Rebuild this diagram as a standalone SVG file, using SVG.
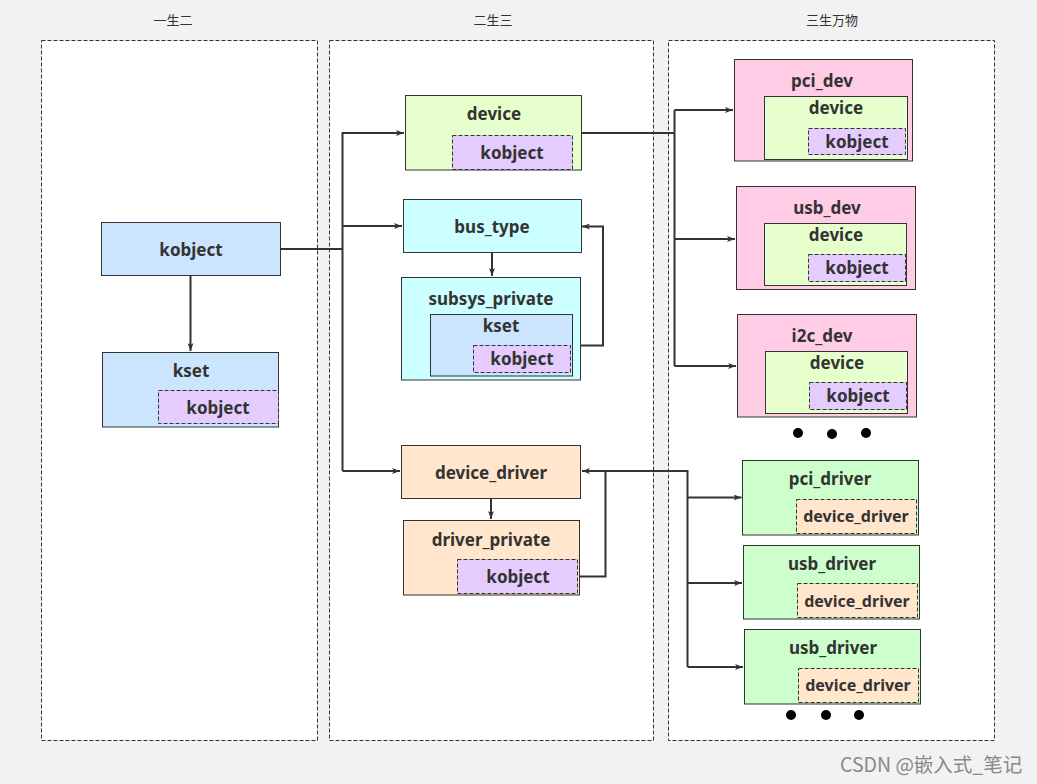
<svg xmlns="http://www.w3.org/2000/svg" width="1037" height="784" viewBox="0 0 1037 784">
<defs>
<marker id="ah" markerWidth="8" markerHeight="6" refX="8" refY="3" orient="auto" markerUnits="userSpaceOnUse">
<path d="M0,0 L8,3 L0,6 L2,3 Z" fill="#333"/>
</marker>
</defs>
<style>
.panel{fill:#fff;stroke:#333;stroke-width:1;stroke-dasharray:4 2}
.title{font-family:"Noto Sans CJK SC","Noto Sans",sans-serif;font-size:13px;fill:#333;text-anchor:middle}
.box{stroke:#333;stroke-width:1}
.dash{stroke:#333;stroke-width:1;stroke-dasharray:4 2}
.blue{fill:#cce5ff}.purple{fill:#e5ccff}.lgreen{fill:#e6ffcc}.cyan{fill:#ccffff}.orange{fill:#ffe6cc}.pink{fill:#ffcce6}.green{fill:#ccffcc}
.t{font-family:"Noto Sans","Liberation Sans",sans-serif;font-weight:bold;font-size:17px;fill:#333;text-anchor:middle;dominant-baseline:central}
.s{font-size:16px}
.c{fill:none;stroke:#333;stroke-width:2}
.dot{fill:#000}
.wm{font-family:"Noto Sans CJK SC","Noto Sans",sans-serif;font-size:19.5px;fill:#888}
</style>
<rect x="0" y="0" width="1037" height="784" fill="#f2f2f2"/>

<g id="panels">
<rect class="panel" x="41.5" y="40.5" width="276" height="700"/>
<rect class="panel" x="329.5" y="40.5" width="324" height="700"/>
<rect class="panel" x="668.5" y="40.5" width="326" height="700"/>
<text class="title" x="173" y="25">一生二</text>
<text class="title" x="493" y="25">二生三</text>
<text class="title" x="832" y="25">三生万物</text>
</g>

<g id="connectors">
<path class="c" d="M280,249 H342.5"/>
<path class="c" d="M342.5,471 V133 H404" marker-end="url(#ah)"/>
<path class="c" d="M342.5,226 H402" marker-end="url(#ah)"/>
<path class="c" d="M342.5,471 H400" marker-end="url(#ah)"/>
<path class="c" d="M190.5,275 V351" marker-end="url(#ah)"/>
<path class="c" d="M492,252 V276" marker-end="url(#ah)"/>
<path class="c" d="M572,345.5 H603 V226.5 H582" marker-end="url(#ah)"/>
<path class="c" d="M491,498 V519" marker-end="url(#ah)"/>
<path class="c" d="M578,576.5 H605.5 V471 H582" marker-end="url(#ah)"/>
<path class="c" d="M581,133 H674.5"/>
<path class="c" d="M674.5,110 V366"/>
<path class="c" d="M674.5,110 H733" marker-end="url(#ah)"/>
<path class="c" d="M674.5,239 H735" marker-end="url(#ah)"/>
<path class="c" d="M674.5,366 H736" marker-end="url(#ah)"/>
<path class="c" d="M582,471 H687.5 V667"/>
<path class="c" d="M687.5,497.5 H741.5" marker-end="url(#ah)"/>
<path class="c" d="M687.5,583 H742" marker-end="url(#ah)"/>
<path class="c" d="M687.5,667 H743" marker-end="url(#ah)"/>
</g>

<g id="kobject">
<rect class="box blue" x="101.5" y="222.5" width="179" height="53"/>
<text class="t" x="191" y="249">kobject</text>
</g>

<g id="kset">
<rect class="box blue" x="102.5" y="352.5" width="176" height="74.5"/>
<text class="t" x="191" y="370">kset</text>
<rect class="dash purple" x="158.5" y="390.5" width="120" height="33"/>
<text class="t" x="218" y="407">kobject</text>
</g>

<g id="device">
<rect class="box lgreen" x="405.5" y="95.5" width="176" height="74.5"/>
<text class="t" x="494" y="113">device</text>
<rect class="dash purple" x="452.5" y="135.5" width="120" height="34"/>
<text class="t" x="512" y="152">kobject</text>
</g>

<g id="bus_type">
<rect class="box cyan" x="403.5" y="199.5" width="178" height="53"/>
<text class="t" x="492" y="226">bus_type</text>
</g>

<g id="subsys_private">
<rect class="box cyan" x="401.5" y="277.5" width="179" height="102.5"/>
<text class="t" x="491" y="298">subsys_private</text>
<rect class="box blue" x="430.5" y="314.5" width="142" height="61.5"/>
<text class="t" x="501" y="325">kset</text>
<rect class="dash purple" x="473.5" y="345.5" width="97" height="27"/>
<text class="t" x="522" y="358">kobject</text>
</g>

<g id="device_driver">
<rect class="box orange" x="401.5" y="445.5" width="179" height="53"/>
<text class="t" x="491" y="472">device_driver</text>
</g>

<g id="driver_private">
<rect class="box orange" x="403.5" y="520.5" width="176" height="74.5"/>
<text class="t" x="491" y="539">driver_private</text>
<rect class="dash purple" x="457.5" y="559.5" width="120" height="34"/>
<text class="t" x="518" y="576">kobject</text>
</g>

<g id="pci_dev">
<rect class="box pink" x="734.5" y="59.5" width="178" height="101.5"/>
<text class="t" x="822" y="80">pci_dev</text>
<rect class="box lgreen" x="764.5" y="96.5" width="143" height="63"/>
<text class="t" x="836" y="107">device</text>
<rect class="dash purple" x="808.5" y="128.5" width="97" height="26"/>
<text class="t" x="857" y="141">kobject</text>
</g>

<g id="usb_dev">
<rect class="box pink" x="736.5" y="186.5" width="179" height="103"/>
<text class="t" x="827" y="207">usb_dev</text>
<rect class="box lgreen" x="764.5" y="223.5" width="142" height="62"/>
<text class="t" x="836" y="234">device</text>
<rect class="dash purple" x="808.5" y="254.5" width="97" height="27"/>
<text class="t" x="857" y="267">kobject</text>
</g>

<g id="i2c_dev">
<rect class="box pink" x="737.5" y="314.5" width="179" height="102.5"/>
<text class="t" x="822" y="335">i2c_dev</text>
<rect class="box lgreen" x="765.5" y="351.5" width="142" height="62"/>
<text class="t" x="837" y="362">device</text>
<rect class="dash purple" x="809.5" y="382.5" width="97" height="27"/>
<text class="t" x="858" y="395">kobject</text>
</g>

<g id="dev_dots">
<circle class="dot" cx="798" cy="433" r="5"/>
<circle class="dot" cx="832" cy="434" r="5"/>
<circle class="dot" cx="866" cy="433" r="5"/>
</g>

<g id="pci_driver">
<rect class="box green" x="742.5" y="460.5" width="176" height="74.5"/>
<text class="t" x="830" y="478">pci_driver</text>
<rect class="dash orange" x="796.5" y="499.5" width="120" height="34"/>
<text class="t s" x="856" y="516">device_driver</text>
</g>

<g id="usb_driver1">
<rect class="box green" x="743.5" y="545.5" width="176" height="73.5"/>
<text class="t" x="832" y="563">usb_driver</text>
<rect class="dash orange" x="797.5" y="583.5" width="120" height="34"/>
<text class="t s" x="857" y="601">device_driver</text>
</g>

<g id="usb_driver2">
<rect class="box green" x="744.5" y="629.5" width="176" height="74.5"/>
<text class="t" x="833" y="647">usb_driver</text>
<rect class="dash orange" x="798.5" y="668.5" width="120" height="34"/>
<text class="t s" x="858" y="685">device_driver</text>
</g>

<g id="drv_dots">
<circle class="dot" cx="791" cy="715" r="5"/>
<circle class="dot" cx="826" cy="715" r="5"/>
<circle class="dot" cx="859" cy="715" r="5"/>
</g>

<text class="wm" x="840" y="772">CSDN @嵌入式_笔记</text>
</svg>
